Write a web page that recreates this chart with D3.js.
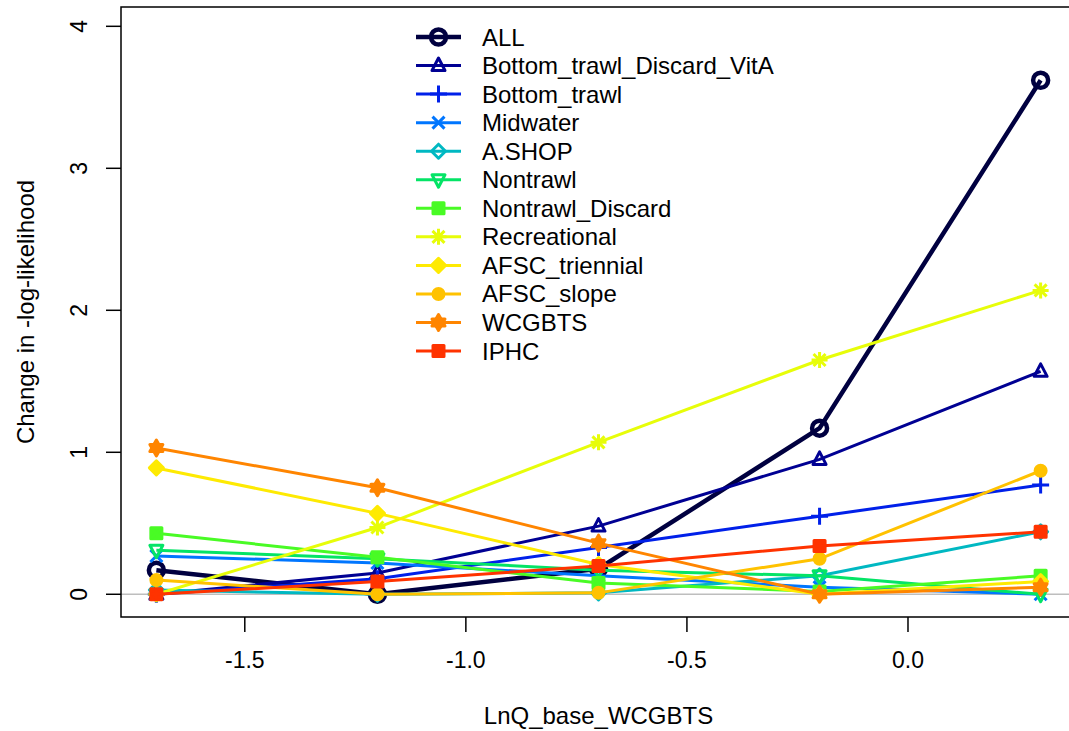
<!DOCTYPE html>
<html>
<head>
<meta charset="utf-8">
<script src="https://cdn.jsdelivr.net/npm/d3@7"></script>
<style>
  html, body { margin: 0; padding: 0; background: #fff; }
  svg { display: block; font-family: "Liberation Sans", Arial, sans-serif; }
  .tick-label { font-size: 23px; fill: #000; }
  .axis-title { font-size: 24px; fill: #000; }
  .legend-text { font-size: 24px; fill: #000; }
</style>
</head>
<body>
<svg id="chart" width="1069" height="731"></svg>
<script>
// x positions of the profile
const xValues = [-1.7, -1.2, -0.7, -0.2, 0.3];

// series names, colours and plotting symbols (R pch codes)
const seriesNames = ['ALL', 'Bottom_trawl_Discard_VitA', 'Bottom_trawl', 'Midwater', 'A.SHOP',
  'Nontrawl', 'Nontrawl_Discard', 'Recreational', 'AFSC_triennial', 'AFSC_slope', 'WCGBTS', 'IPHC'];
const seriesColors = ['#000040', '#000093', '#0020E9', '#0076FF', '#00B8C2', '#04E466',
  '#49FB25', '#E7FD09', '#FEEA02', '#FFC200', '#FF8500', '#FF3300'];
const seriesPch = [1, 2, 3, 4, 5, 6, 7, 8, 9, 10, 11, 12];

// change in -log-likelihood, one array per series
const allValues       = [0.17, 0.00, 0.18, 1.17, 3.62];
const vitAValues      = [0.00, 0.15, 0.48, 0.95, 1.57];
const bottomValues    = [0.00, 0.11, 0.33, 0.55, 0.77];
const midwaterValues  = [0.27, 0.22, 0.13, 0.05, 0.00];
const ashopValues     = [0.03, 0.00, 0.01, 0.13, 0.44];
const nontrawlValues  = [0.31, 0.25, 0.17, 0.13, 0.00];
const ntDiscardValues = [0.43, 0.26, 0.08, 0.02, 0.13];
const recValues       = [0.00, 0.47, 1.07, 1.65, 2.14];
const trienValues     = [0.89, 0.57, 0.21, 0.00, 0.09];
const slopeValues     = [0.10, 0.00, 0.01, 0.25, 0.87];
const wcgbtsValues    = [1.03, 0.75, 0.36, 0.00, 0.05];
const iphcValues      = [0.00, 0.09, 0.20, 0.34, 0.44];

const seriesValues = [allValues, vitAValues, bottomValues, midwaterValues, ashopValues,
  nontrawlValues, ntDiscardValues, recValues, trienValues, slopeValues, wcgbtsValues, iphcValues];

const xTicks = [-1.5, -1.0, -0.5, 0.0];
const yTicks = [0, 1, 2, 3, 4];

const PLOT = { left: 121, right: 1076, top: 7, bottom: 617 };
const LW_ALL = 4.5;
const LW = 3;

const svg = d3.select('#chart');

const x = d3.scaleLinear().domain([-1.78, 0.38]).range([PLOT.left, PLOT.right]);
const y = d3.scaleLinear().domain([-0.16, 4.136]).range([PLOT.bottom, PLOT.top]);

// zero reference line
svg.append('line')
  .attr('x1', PLOT.left).attr('x2', PLOT.right)
  .attr('y1', y(0)).attr('y2', y(0))
  .attr('stroke', '#bebebe').attr('stroke-width', 1.5);

// draw one R-style plotting symbol into g
function drawPch(g, pch, color, sw) {
  const s = g.append('g').attr('fill', 'none').attr('stroke', color).attr('stroke-width', sw)
    .attr('stroke-linejoin', 'round');
  const triUp = 'M0,-7.5L6.5,5L-6.5,5Z';
  const triDn = 'M0,7.5L6.5,-5L-6.5,-5Z';
  const plus = (l) => s.append('path').attr('d', `M${-l},0H${l}M0,${-l}V${l}`);
  const cross = (l) => s.append('path').attr('d', `M${-l},${-l}L${l},${l}M${-l},${l}L${l},${-l}`);
  const diamond = (l, f) => s.append('path').attr('d', `M0,${-l}L${l},0L0,${l}L${-l},0Z`)
    .attr('fill', f ? color : 'none');
  const square = (l, f) => s.append('rect').attr('x', -l).attr('y', -l)
    .attr('width', 2 * l).attr('height', 2 * l).attr('fill', f ? color : 'none');
  switch (pch) {
    case 1: s.append('circle').attr('r', 7.5); break;
    case 2: s.append('path').attr('d', triUp); break;
    case 3: plus(8.5); break;
    case 4: cross(6); break;
    case 5: diamond(7); break;
    case 6: s.append('path').attr('d', triDn); break;
    case 7: square(5.5, true); cross(5.5); break;
    case 8: plus(8); cross(6); break;
    case 9: diamond(7, true); plus(7); break;
    case 10: s.append('circle').attr('r', 5.5).attr('fill', color); plus(5.5); break;
    case 11:
      s.append('path').attr('d', 'M0,-8L6.5,3.5L-6.5,3.5Z').attr('fill', color);
      s.append('path').attr('d', 'M0,8L6.5,-3.5L-6.5,-3.5Z').attr('fill', color);
      break;
    case 12: square(5.5, true); plus(5.5); break;
  }
}

const line = d3.line().x((d, i) => x(xValues[i])).y((d) => y(d));

seriesValues.forEach((vals, k) => {
  const color = seriesColors[k];
  const lw = k === 0 ? LW_ALL : LW;
  svg.append('path')
    .attr('d', line(vals))
    .attr('fill', 'none')
    .attr('stroke', color)
    .attr('stroke-width', lw);
  vals.forEach((v, i) => {
    const g = svg.append('g').attr('transform', `translate(${x(xValues[i])},${y(v)})`);
    drawPch(g, seriesPch[k], color, lw);
  });
});

// plot frame (right edge falls outside the picture)
svg.append('path')
  .attr('d', `M${PLOT.right},${PLOT.top}H${PLOT.left}V${PLOT.bottom}H${PLOT.right}`)
  .attr('fill', 'none').attr('stroke', '#000').attr('stroke-width', 1.5);

// x axis
xTicks.forEach((t) => {
  svg.append('line').attr('x1', x(t)).attr('x2', x(t))
    .attr('y1', PLOT.bottom).attr('y2', PLOT.bottom + 15)
    .attr('stroke', '#000').attr('stroke-width', 1.5);
  svg.append('text').attr('class', 'tick-label')
    .attr('x', x(t)).attr('y', 668)
    .attr('text-anchor', 'middle')
    .text(d3.format('.1f')(t).replace('−', '-'));
});

// y axis (labels parallel to axis, like R)
yTicks.forEach((t) => {
  svg.append('line').attr('x1', PLOT.left - 15).attr('x2', PLOT.left)
    .attr('y1', y(t)).attr('y2', y(t))
    .attr('stroke', '#000').attr('stroke-width', 1.5);
  svg.append('text').attr('class', 'tick-label')
    .attr('transform', `translate(87,${y(t)}) rotate(-90)`)
    .attr('text-anchor', 'middle')
    .text(t);
});

svg.append('text').attr('class', 'axis-title')
  .attr('x', (PLOT.left + PLOT.right) / 2).attr('y', 724)
  .attr('text-anchor', 'middle')
  .text('LnQ_base_WCGBTS');

svg.append('text').attr('class', 'axis-title')
  .attr('transform', `translate(34,${(PLOT.top + PLOT.bottom) / 2}) rotate(-90)`)
  .attr('text-anchor', 'middle')
  .text('Change in -log-likelihood');

// legend
const LEG = { x0: 416, x1: 461, xt: 482, y0: 37, dy: 28.55 };
seriesNames.forEach((name, k) => {
  const yy = LEG.y0 + k * LEG.dy;
  const lw = k === 0 ? LW_ALL : LW;
  svg.append('line').attr('x1', LEG.x0).attr('x2', LEG.x1)
    .attr('y1', yy).attr('y2', yy)
    .attr('stroke', seriesColors[k]).attr('stroke-width', lw);
  drawPch(svg.append('g').attr('transform', `translate(${(LEG.x0 + LEG.x1) / 2},${yy})`),
    seriesPch[k], seriesColors[k], lw);
  svg.append('text').attr('class', 'legend-text')
    .attr('x', LEG.xt).attr('y', yy + 8.5)
    .text(name);
});
</script>
</body>
</html>
